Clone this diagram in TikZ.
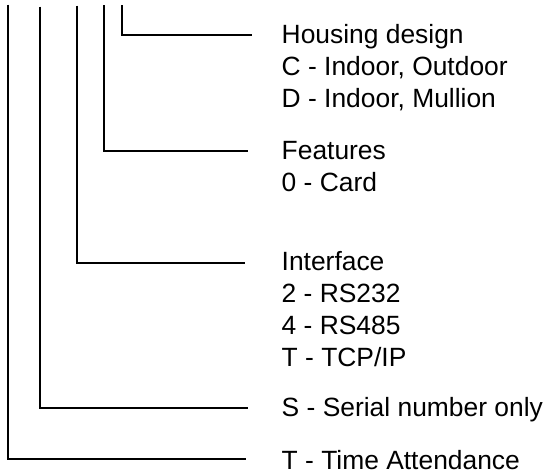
\documentclass[tikz,border=0pt]{standalone}
\usepackage{fontspec}
\setmainfont{Liberation Sans}
\begin{document}
\begin{tikzpicture}[x=1pt,y=-1pt,
  lbl/.style={anchor=base west,inner sep=0pt,font=\fontsize{26.4}{32}\selectfont},
  leader/.style={line width=1.8pt,line join=miter}]
\useasboundingbox (0,0) rectangle (546,474);
% text
\node[lbl] (h1) at (281.5,43) {Housing design};
\node[lbl] (h2) at (281.5,75) {C - Indoor, Outdoor};
\node[lbl] (h3) at (281.5,107) {D - Indoor, Mullion};
\node[lbl] (f1) at (281.5,159) {Features};
\node[lbl] (f2) at (281.5,191) {0 - Card};
\node[lbl] (i1) at (281.5,270.5) {Interface};
\node[lbl] (i2) at (281.5,302.5) {2 - RS232};
\node[lbl] (i3) at (281.5,334.5) {4 - RS485};
\node[lbl] (i4) at (281.5,366.5) {T - TCP/IP};
\node[lbl] (s1) at (281.5,416) {S - Serial number only};
\node[lbl] (t1) at (281.5,469.3) {T - Time Attendance};
% leader coordinates
\coordinate (top1) at (7.8,4.7);   \coordinate (end1) at (245.7,459.3);
\coordinate (top2) at (40,6.7);    \coordinate (end2) at (248,408.3);
\coordinate (top3) at (77.3,5.7);  \coordinate (end3) at (245.3,262.7);
\coordinate (top4) at (103.8,5);   \coordinate (end4) at (248.3,151);
\coordinate (top5) at (122,5);     \coordinate (end5) at (251.7,35);
\draw[leader] (top1) |- (end1);
\draw[leader] (top2) |- (end2);
\draw[leader] (top3) |- (end3);
\draw[leader] (top4) |- (end4);
\draw[leader] (top5) |- (end5);
\end{tikzpicture}
\end{document}
